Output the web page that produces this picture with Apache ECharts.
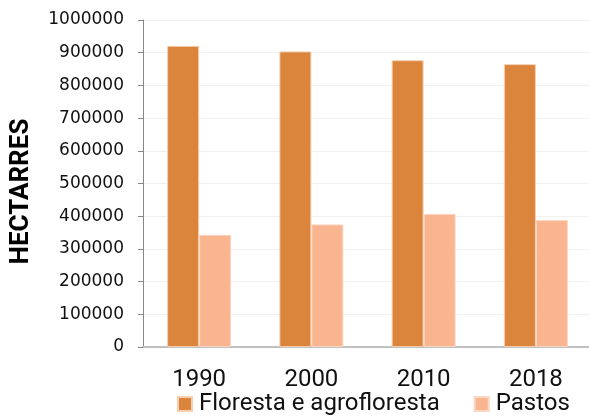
<!DOCTYPE html>
<html>
<head>
<meta charset="utf-8">
<script src="https://cdn.jsdelivr.net/npm/echarts@6/dist/echarts.min.js"></script>
<style>
  html, body { margin: 0; padding: 0; background: #fff; }
  #main { width: 589px; height: 417px; }
</style>
</head>
<body>
<div id="main"></div>
<script>
// anos e valores (hectares)
var years = ['1990', '2000', '2010', '2018'];
var floresta = [921000, 904000, 877000, 865000];
var pastos = [343000, 375000, 407000, 388000];
var seriesNames = ['Floresta e agrofloresta', 'Pastos'];

var option = {
    animation: false,
    backgroundColor: '#fff',
    color: ['#DA843C', '#F8B590'],
    grid: { left: 143, top: 20, right: -3, bottom: 70, outerBoundsMode: 'none', containLabel: false },
    legend: {
        bottom: -4,
        left: 172,
        itemWidth: 14,
        itemHeight: 14,
        itemGap: 34,
        icon: 'rect',
        textStyle: { fontFamily: 'Roboto', fontSize: 24, color: '#111', padding: [0, 0, 0, 2] },
        data: seriesNames
    },
    xAxis: {
        type: 'category',
        data: years,
        axisLine: { lineStyle: { color: '#c0c0c0', width: 2 } },
        axisTick: { length: 7, lineStyle: { color: '#999' } },
        axisLabel: { margin: 21, fontFamily: 'Roboto', fontSize: 24, color: '#111' }
    },
    yAxis: {
        type: 'value',
        min: 0,
        max: 1000000,
        interval: 100000,
        name: 'HECTARRES',
        nameLocation: 'middle',
        nameGap: 109,
        nameTextStyle: { fontFamily: 'Roboto', fontWeight: 'bold', fontSize: 26, color: '#000', padding: [0, 16, 0, 0] },
        axisLine: { show: true, lineStyle: { color: '#888' } },
        axisTick: { show: true, length: 5, lineStyle: { color: '#888' } },
        axisLabel: {
            margin: 19, fontFamily: 'DejaVu Sans', fontSize: 17, color: '#111',
            formatter: function (v) { return String(v); }
        },
        splitLine: { lineStyle: { color: '#f0f0f0' } }
    },
    series: [
        {
            name: seriesNames[0],
            type: 'bar',
            barGap: 0,
            barCategoryGap: '43%',
            itemStyle: { borderColor: '#f6cfb3', borderWidth: 1 },
            data: floresta
        },
        {
            name: seriesNames[1],
            type: 'bar',
            itemStyle: { borderColor: '#fbd6c2', borderWidth: 1 },
            data: pastos
        }
    ]
};

var chart = echarts.init(document.getElementById('main'));
chart.setOption(option);
</script>
</body>
</html>
